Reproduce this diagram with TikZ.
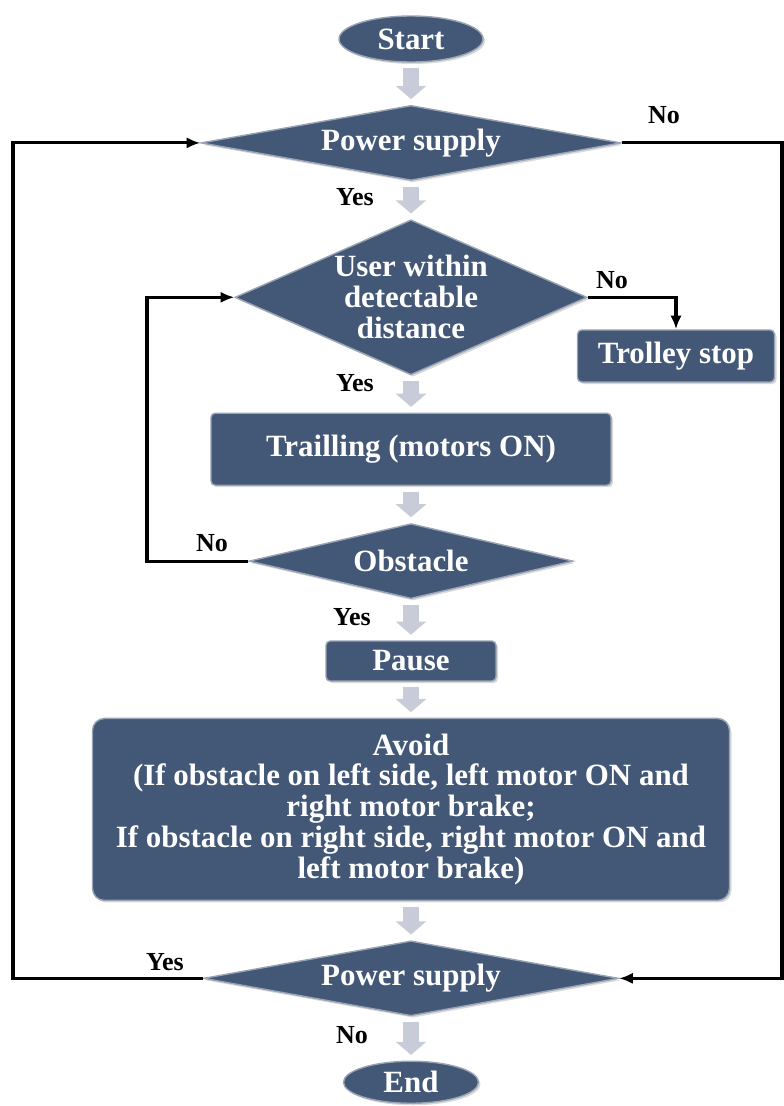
\documentclass[tikz,border=0pt]{standalone}
\usepackage{fontspec}
\setmainfont{Liberation Serif}
\usepackage{xcolor}
\usepackage{tikz}
\usetikzlibrary{arrows.meta,positioning,shapes.geometric,shadows}
\definecolor{col1}{HTML}{435777}
\definecolor{col2}{HTML}{C8CCD8}

\begin{document}
\begin{tikzpicture}[
  term/.style={ellipse, minimum width=3.6cm, minimum height=1.15cm, inner sep=0pt,
               fill=col1, draw=col1!55!white, line width=1pt, text=white,
               font=\bfseries\fontsize{22}{22}\selectfont,
               drop shadow={opacity=0.3, shadow xshift=0.05cm, shadow yshift=-0.05cm}},
  dec/.style={diamond, inner sep=0pt, align=center,
              fill=col1, draw=col1!55!white, line width=1pt, text=white,
              font=\bfseries\fontsize{22}{22}\selectfont,
              drop shadow={opacity=0.3, shadow xshift=0.05cm, shadow yshift=-0.05cm}},
  box/.style={rectangle, rounded corners=3pt, inner sep=0pt, align=center,
              fill=col1, draw=col1!55!white, line width=1pt, text=white,
              font=\bfseries\fontsize{22}{22}\selectfont,
              drop shadow={opacity=0.3, shadow xshift=0.05cm, shadow yshift=-0.05cm}},
  lbl/.style={font=\bfseries\fontsize{18.5}{20}\selectfont, inner sep=0pt},
  arr/.style={-{Latex[length=0.34cm,width=0.28cm]}, line width=2.2pt, black},
  flow/.style={-{Triangle[length=0.33cm,width=0.75cm]}, line width=0.4cm, col2,
               shorten <=0.14cm, shorten >=0.14cm}
]
  \useasboundingbox (0,0) rectangle (19.6,-27.65);

  % main column
  \node[term] (start) at (10.275,-0.975) {Start};
  \node[dec, aspect=5.6, minimum width=10.5cm, minimum height=1.875cm,
        below=1.05cm of start] (ps1) {Power supply};
  \node[dec, aspect=2.27, minimum width=8.8cm, minimum height=3.875cm,
        below=0.95cm of ps1] (user) {User within\\detectable\\distance};
  \node[box, minimum width=10cm, minimum height=1.8cm,
        below=0.925cm of user] (trail) {Trailling (motors ON)};
  \node[dec, aspect=4.3, minimum width=8.1cm, minimum height=1.875cm,
        below=0.925cm of trail] (obst) {Obstacle};
  \node[box, minimum width=4.25cm, minimum height=1.0cm,
        below=1.025cm of obst] (pause) {Pause};
  \node[box, rounded corners=0.3cm, minimum width=15.925cm, minimum height=4.55cm,
        below=0.9cm of pause] (avoid)
    {Avoid\\(If obstacle on left side, left motor ON and\\right motor brake;\\
     If obstacle on right side, right motor ON and\\left motor brake)};
  \node[dec, aspect=5.5, minimum width=10.375cm, minimum height=1.875cm,
        below=0.975cm of avoid] (ps2) {Power supply};
  \node[term, minimum width=3.375cm, minimum height=1.05cm,
        below=1.1cm of ps2] (stop) {End};

  \node[box, minimum width=4.925cm, minimum height=1.3cm] (trolley) at (16.9,-8.9) {Trolley stop};

  % loop columns
  \coordinate (rgt) at (19.55,0);
  \coordinate (lft) at (0.325,0);
  \coordinate (lftin) at (3.675,0);

  % gray flow arrows
  \draw[flow] (start) -- (ps1);
  \draw[flow] (ps1) -- (user);
  \draw[flow] (user) -- (trail);
  \draw[flow] (trail) -- (obst);
  \draw[flow] (obst) -- (pause);
  \draw[flow] (pause) -- (avoid);
  \draw[flow] (avoid) -- (ps2);
  \draw[flow] (ps2) -- (stop);

  % black branches
  \draw[arr] (ps1.east) -- (ps1.east -| rgt) |- (ps2.east);
  \draw[arr] (ps2.west) -- (ps2.west -| lft) |- (ps1.west);
  \draw[arr] (obst.west) -- (obst.west -| lftin) |- (user.west);
  \draw[arr] (user.east) -| (trolley.north);

  % branch labels
  \node[lbl] (noa) at (16.6,-2.875) {No};
  \node[lbl] (yesa) at (8.875,-4.925) {Yes};
  \node[lbl] (nob) at (15.3,-7.0) {No};
  \node[lbl] (yesb) at (8.875,-9.575) {Yes};
  \node[lbl] (noc) at (5.3,-13.575) {No};
  \node[lbl] (yesc) at (8.8,-15.425) {Yes};
  \node[lbl] (yesd) at (4.125,-24.05) {Yes};
  \node[lbl] (nod) at (8.8,-25.875) {No};
\end{tikzpicture}
\end{document}
